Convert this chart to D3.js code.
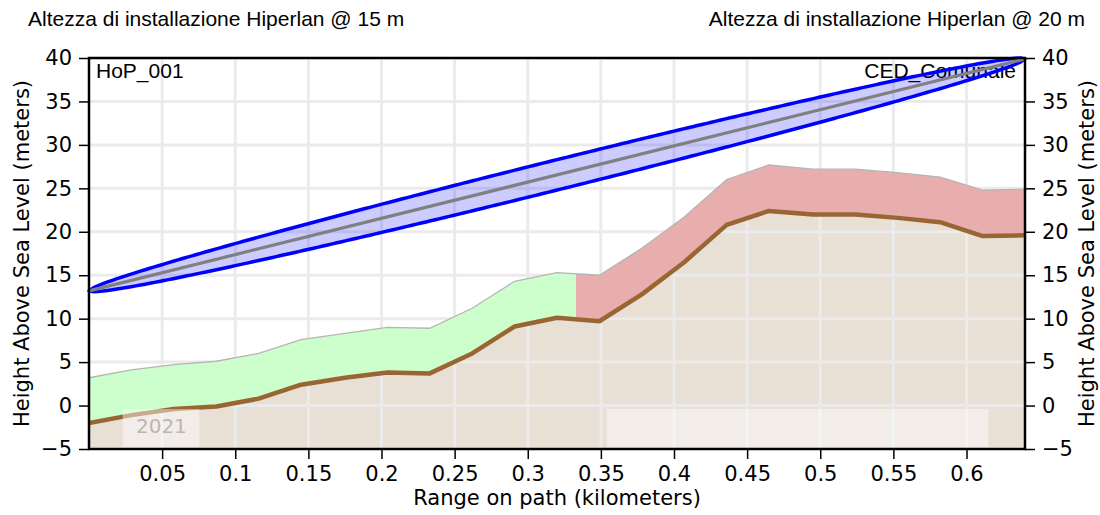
<!DOCTYPE html>
<html lang="it">
<head>
    <meta charset="UTF-8">
    <script src="https://cdn.jsdelivr.net/npm/d3@7"></script>
    <title>Profilo Hiperlan</title>
    <style>
        body { margin: 0; background: #fff; }
        .tick text, .lab { font-family: "DejaVu Sans", sans-serif; fill: #000; }
        .ttl { font-family: "Liberation Sans", Arial, sans-serif; fill: #000; }
    </style>
</head>
<body>
<script>
    // profile data
    const distKm = [0, 0.029, 0.058, 0.087, 0.116, 0.145, 0.175, 0.204, 0.233, 0.262, 0.291, 0.320,
                    0.349, 0.378, 0.407, 0.436, 0.465, 0.495, 0.524, 0.553, 0.582, 0.611, 0.640]
    const groundM = [-2.0, -1.1, -0.4, -0.1, 0.8, 2.4, 3.2, 3.8, 3.7, 6.0, 9.1, 10.1,
                     9.7, 12.8, 16.5, 20.8, 22.4, 22.0, 22.0, 21.6, 21.1, 19.5, 19.6]
    const clutterTopM = [3.2, 4.1, 4.7, 5.1, 6.0, 7.6, 8.3, 9.0, 8.9, 11.2, 14.3, 15.3,
                         15.0, 18.1, 21.7, 26.0, 27.7, 27.2, 27.2, 26.8, 26.3, 24.8, 24.9]
    const obstructionFromKm = 0.333
    const siteNames = ["HoP_001", "CED_Comunale"]
    const antennaM = [13.2, 39.9]
    const fresnelMaxM = 1.75
    const titles = ["Altezza di installazione Hiperlan @ 15 m", "Altezza di installazione Hiperlan @ 20 m"]
    const xTicks = [0.05, 0.1, 0.15, 0.2, 0.25, 0.3, 0.35, 0.4, 0.45, 0.5, 0.55, 0.6]
    const yTicks = [-5, 0, 5, 10, 15, 20, 25, 30, 35, 40]
    const watermarkText = "2021"

    const width = 1100, height = 515
    const pL = 89, pR = 1025, pT = 58, pB = 449

    const x = d3.scaleLinear().domain([0, 0.64]).range([pL, pR])
    const y = d3.scaleLinear().domain([-5, 40]).range([pB, pT])

    const svg = d3.select("body").append("svg")
        .attr("width", width)
        .attr("height", height)

    const pts = distKm.map((d, i) => ({ d: d, g: groundM[i], c: clutterTopM[i] }))

    const defs = svg.append("defs")
    defs.append("clipPath").attr("id", "plot")
        .append("rect").attr("x", pL).attr("y", pT).attr("width", pR - pL).attr("height", pB - pT)
    defs.append("clipPath").attr("id", "okpart")
        .append("rect").attr("x", pL).attr("y", pT).attr("width", x(obstructionFromKm) - pL).attr("height", pB - pT)
    defs.append("clipPath").attr("id", "badpart")
        .append("rect").attr("x", x(obstructionFromKm)).attr("y", pT).attr("width", pR - x(obstructionFromKm)).attr("height", pB - pT)

    const plot = svg.append("g").attr("clip-path", "url(#plot)")

    // terrain body
    plot.append("path")
        .datum(pts)
        .attr("fill", "#e8dfd5")
        .attr("d", d3.area().x(d => x(d.d)).y0(y(-5)).y1(d => y(d.g)))

    // grid
    plot.append("g").selectAll("line").data(xTicks).join("line")
        .attr("x1", d => x(d)).attr("x2", d => x(d)).attr("y1", pT).attr("y2", pB)
        .attr("stroke", "#ebebeb").attr("stroke-width", 3)
    plot.append("g").selectAll("line").data(yTicks).join("line")
        .attr("x1", pL).attr("x2", pR).attr("y1", d => y(d)).attr("y2", d => y(d))
        .attr("stroke", "#ebebeb").attr("stroke-width", 3)

    // clutter band: green where clear, red where obstructing
    const band = d3.area().x(d => x(d.d)).y0(d => y(d.g)).y1(d => y(d.c))
    plot.append("path").datum(pts).attr("fill", "#ccffcc").attr("clip-path", "url(#okpart)").attr("d", band)
    plot.append("path").datum(pts).attr("fill", "#e8adad").attr("clip-path", "url(#badpart)").attr("d", band)
    plot.append("path").datum(pts)
        .attr("fill", "none").attr("stroke", "#b5b5b5").attr("stroke-width", 1.3)
        .attr("d", d3.line().x(d => x(d.d)).y(d => y(d.c)))

    // watermark boxes
    const wm = svg.append("g")
    wm.append("rect").attr("x", x(0.023)).attr("y", y(-0.4)).attr("width", x(0.0755) - x(0.023)).attr("height", y(-4.8) - y(-0.4))
        .attr("fill", "#fff").attr("opacity", 0.45)
    wm.append("rect").attr("x", x(0.354)).attr("y", y(-0.4)).attr("width", x(0.615) - x(0.354)).attr("height", y(-4.8) - y(-0.4))
        .attr("fill", "#fff").attr("opacity", 0.45)
    wm.append("text").attr("class", "lab")
        .attr("x", x(0.0495)).attr("y", y(-3.2))
        .attr("text-anchor", "middle").attr("font-size", 20).style("fill", "#bab6b2")
        .text(watermarkText)

    // ground line
    plot.append("path").datum(pts)
        .attr("fill", "none").attr("stroke", "#996633").attr("stroke-width", 4.5).attr("stroke-linejoin", "round")
        .attr("d", d3.line().x(d => x(d.d)).y(d => y(d.g)))

    // site labels
    svg.append("text").attr("class", "ttl").attr("x", pL + 7).attr("y", pT + 20).attr("font-size", 21).text(siteNames[0])
    svg.append("text").attr("class", "ttl").attr("x", pR - 9).attr("y", pT + 20).attr("font-size", 21)
        .attr("text-anchor", "end").text(siteNames[1])

    // fresnel ellipse and line of sight
    const d0 = x.domain()[0], d1 = x.domain()[1]
    const steps = d3.range(0, 1.0001, 0.005)
    const mid = t => antennaM[0] + (antennaM[1] - antennaM[0]) * t
    const rad = t => fresnelMaxM * 2 * Math.sqrt(Math.max(0, t * (1 - t)))
    const upper = steps.map(t => [x(d0 + (d1 - d0) * t), y(mid(t) + rad(t))])
    const lower = steps.slice().reverse().map(t => [x(d0 + (d1 - d0) * t), y(mid(t) - rad(t))])
    svg.append("path")
        .attr("d", d3.line()(upper.concat(lower)) + "Z")
        .attr("fill", "rgba(0,0,255,0.2)")
        .attr("stroke", "#0000ff").attr("stroke-width", 3.5).attr("stroke-linejoin", "round")
    svg.append("line")
        .attr("x1", x(d0)).attr("y1", y(antennaM[0])).attr("x2", x(d1)).attr("y2", y(antennaM[1]))
        .attr("stroke", "#808080").attr("stroke-width", 3.2)

    // axes
    const axL = svg.append("g").attr("transform", `translate(${pL},0)`)
        .call(d3.axisLeft(y).tickValues(yTicks).tickSize(10).tickPadding(7))
    const axR = svg.append("g").attr("transform", `translate(${pR},0)`)
        .call(d3.axisRight(y).tickValues(yTicks).tickSize(10).tickPadding(7))
    const axB = svg.append("g").attr("transform", `translate(0,${pB})`)
        .call(d3.axisBottom(x).tickValues(xTicks).tickFormat(d3.format("")).tickSize(10).tickPadding(7))
    ;[axL, axR, axB].forEach(a => {
        a.selectAll(".domain").remove()
        a.selectAll(".tick line").attr("stroke", "#000").attr("stroke-width", 1.5)
        a.selectAll(".tick text").attr("font-size", 21).attr("font-family", null)
    })
    svg.append("rect").attr("x", pL).attr("y", pT).attr("width", pR - pL).attr("height", pB - pT)
        .attr("fill", "none").attr("stroke", "#000").attr("stroke-width", 2.5)

    // axis titles
    svg.append("text").attr("class", "lab").attr("font-size", 21).attr("text-anchor", "middle")
        .attr("x", (pL + pR) / 2).attr("y", 505).text("Range on path (kilometers)")
    svg.append("text").attr("class", "lab").attr("font-size", 21).attr("text-anchor", "middle")
        .attr("transform", `translate(29,${(pT + pB) / 2}) rotate(-90)`).text("Height Above Sea Level (meters)")
    svg.append("text").attr("class", "lab").attr("font-size", 21).attr("text-anchor", "middle")
        .attr("transform", `translate(1094,${(pT + pB) / 2}) rotate(-90)`).text("Height Above Sea Level (meters)")

    // top titles
    svg.append("text").attr("class", "ttl").attr("font-size", 21).attr("x", 28).attr("y", 26).text(titles[0])
    svg.append("text").attr("class", "ttl").attr("font-size", 21).attr("x", 1085).attr("y", 26)
        .attr("text-anchor", "end").text(titles[1])
</script>
</body>
</html>
